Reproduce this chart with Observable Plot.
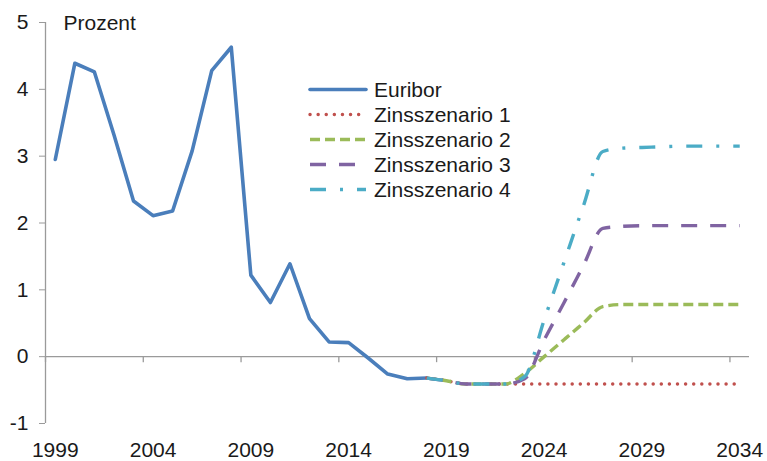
<!DOCTYPE html>
<html>
<head>
<meta charset="utf-8">
<script src="https://cdn.jsdelivr.net/npm/d3@7"></script>
<script src="https://cdn.jsdelivr.net/npm/@observablehq/plot@0.6"></script>
<style>
  html, body { margin: 0; padding: 0; background: #fff; }
  #wrap { position: relative; width: 767px; height: 461px; font-family: "Liberation Sans", Arial, sans-serif; }
  #legend { position: absolute; left: 308px; top: 77px; font-size: 21px; color: #1a1a1a; }
  .row { display: flex; align-items: center; height: 25px; }
  .row svg { display: block; margin-right: 6px; }
</style>
</head>
<body>
<div id="wrap"></div>
<script>
// ---- data ----
const euriborYears = [1999,2000,2001,2002,2003,2004,2005,2006,2007,2008,2009,2010,2011,2012,2013,2014,2015,2016,2017,2018];
const euriborValues = [2.95,4.39,4.26,3.32,2.33,2.11,2.18,3.08,4.28,4.63,1.22,0.81,1.39,0.57,0.22,0.21,-0.02,-0.26,-0.33,-0.32];

const scenarioYears = [2018,2019,2020,2021,2022,2023,2024,2025,2026,2027,2028,2029,2030,2031,2032,2033,2034];
const scenario1 = [-0.32,-0.36,-0.41,-0.41,-0.41,-0.41,-0.41,-0.41,-0.41,-0.41,-0.41,-0.41,-0.41,-0.41,-0.41,-0.41,-0.41];
const scenario2 = [-0.32,-0.36,-0.41,-0.41,-0.41,-0.25,0.0,0.25,0.5,0.75,0.78,0.78,0.78,0.78,0.78,0.78,0.78];
const scenario3 = [-0.32,-0.36,-0.41,-0.41,-0.41,-0.33,0.25,0.8,1.36,1.92,1.95,1.96,1.96,1.96,1.96,1.96,1.96];
const scenario4 = [-0.32,-0.36,-0.41,-0.41,-0.41,-0.3,0.55,1.4,2.25,3.07,3.12,3.13,3.14,3.15,3.15,3.15,3.15];

const seriesNames = ["Euribor","Zinsszenario 1","Zinsszenario 2","Zinsszenario 3","Zinsszenario 4"];
const seriesColors = ["#4a7ebb","#c0504d","#9bbb59","#8064a2","#4bacc6"];
const seriesDash = [null,"0.1 8","10 5","16 13","16 14 3 14"];
const seriesCap = ["round","round","butt","butt","butt"];

const xTicks = [1999,2004,2009,2014,2019,2024,2029,2034];
const yTicks = [-1,0,1,2,3,4,5];
const xDomain = [1998.5, 2034.5];
const yDomain = [-1, 5];
const yLabel = "Prozent";

// ---- build tables ----
const euribor = euriborYears.map((year, i) => ({year, value: euriborValues[i]}));
const scenarios = [scenario1, scenario2, scenario3, scenario4].map(vals =>
  scenarioYears.map((year, i) => ({year, value: vals[i]})));
const tickBounds = xTicks.map(y => y - 0.5);
const axisColor = "#9a9a9a";

const lineMarks = [
  Plot.line(euribor, {x: "year", y: "value", stroke: seriesColors[0], strokeWidth: 3.6, strokeLinejoin: "round"})
];
scenarios.forEach((data, k) => {
  lineMarks.push(Plot.line(data, {
    x: "year", y: "value",
    stroke: seriesColors[k + 1], strokeWidth: 3.4,
    strokeDasharray: seriesDash[k + 1], strokeLinecap: seriesCap[k + 1],
    curve: "monotone-x"
  }));
});

const chart = Plot.plot({
  width: 767, height: 461,
  marginLeft: 45, marginRight: 18, marginTop: 22, marginBottom: 38,
  x: {domain: xDomain},
  y: {domain: yDomain},
  style: {fontFamily: "'Liberation Sans', Arial, sans-serif", fontSize: "21px", color: "#1a1a1a", background: "#fff"},
  marks: [
    Plot.ruleX([xDomain[0]], {y1: yDomain[0], y2: yDomain[1], stroke: axisColor, strokeWidth: 1.3}),
    Plot.ruleY([0], {stroke: axisColor, strokeWidth: 1.3}),
    Plot.ruleX(tickBounds, {y1: 0, y2: 0, insetBottom: -6, stroke: axisColor, strokeWidth: 1.3}),
    Plot.axisY({ticks: yTicks, tickSize: 6, tickPadding: 11, stroke: axisColor, label: null, tickFormat: d => `${d}`}),
    Plot.axisX({ticks: xTicks, tickSize: 0, tickPadding: 19, label: null, tickFormat: d => `${d}`}),
    ...lineMarks,
    Plot.text([yLabel], {frameAnchor: "top-left", dx: 18, dy: -7, textAnchor: "start", lineAnchor: "top", fontSize: 21, fill: "#1a1a1a"})
  ]
});

const wrap = document.getElementById("wrap");
wrap.appendChild(chart);

// ---- legend ----
const legend = document.createElement("div");
legend.id = "legend";
seriesNames.forEach((name, i) => {
  const row = document.createElement("div");
  row.className = "row";
  const ns = "http://www.w3.org/2000/svg";
  const svg = document.createElementNS(ns, "svg");
  svg.setAttribute("width", 60);
  svg.setAttribute("height", 25);
  const ln = document.createElementNS(ns, "line");
  ln.setAttribute("x1", 2); ln.setAttribute("x2", 58);
  ln.setAttribute("y1", 12.5); ln.setAttribute("y2", 12.5);
  ln.setAttribute("stroke", seriesColors[i]);
  ln.setAttribute("stroke-width", i === 0 ? 3.6 : 3.4);
  ln.setAttribute("stroke-linecap", seriesCap[i]);
  if (seriesDash[i]) ln.setAttribute("stroke-dasharray", seriesDash[i]);
  svg.appendChild(ln);
  row.appendChild(svg);
  const span = document.createElement("span");
  span.textContent = name;
  row.appendChild(span);
  legend.appendChild(row);
});
wrap.appendChild(legend);
</script>
</body>
</html>
